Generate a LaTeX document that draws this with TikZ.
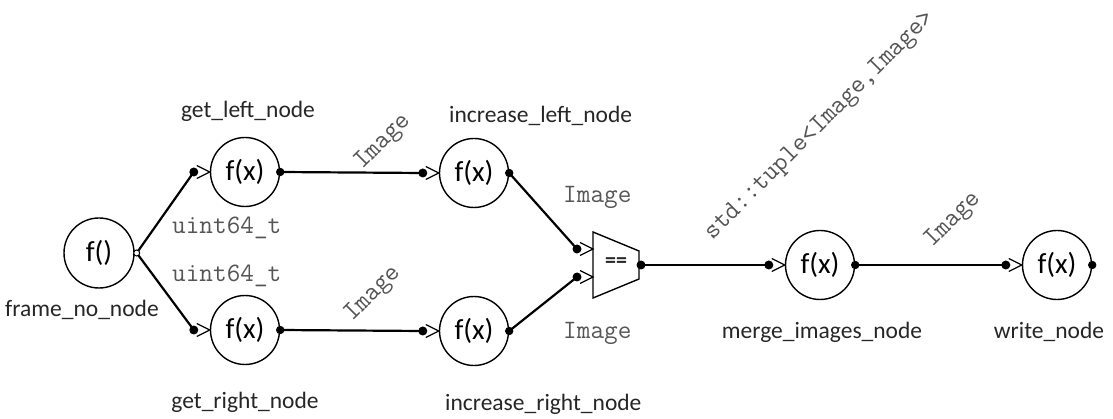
\documentclass[tikz,border=0pt]{standalone}
\usepackage{fontspec}
\setmainfont{Carlito}
\usetikzlibrary{calc}
\definecolor{txt}{HTML}{262626}
\definecolor{mono}{HTML}{555555}
\newcommand\myportin[1]{%
  \fill (#1) circle (4.5);
  \draw[chev] ($(#1)+(3,-6.5)$) -- ($(#1)+(16,0)$) -- ($(#1)+(3,6.5)$);
}
\begin{document}
\begin{tikzpicture}[x=1pt,y=-1pt,
  fnode/.style={circle,draw,line width=1.4pt,minimum size=69pt,inner sep=0pt,
    font=\fontsize{29}{29}\selectfont},
  lbl/.style={font=\fontsize{23.5}{24}\selectfont,text=txt,inner sep=0pt,anchor=base},
  mlbl/.style={font=\ttfamily\fontsize{26.5}{27}\selectfont,text=mono,inner sep=0pt},
  wire/.style={line width=2.2pt},
  chev/.style={line width=1.2pt,line join=miter},
]
\useasboundingbox (0,0) rectangle (1113,419);

% function nodes
\node[fnode,minimum size=70pt] (fn) at (99,253) {f()};
\node[fnode] (gl) at (245,172) {f(x)};
\node[fnode] (gr) at (245,330) {f(x)};
\node[fnode] (il) at (474,173) {f(x)};
\node[fnode] (ir) at (474,331) {f(x)};
\node[fnode] (mg) at (820,265) {f(x)};
\node[fnode] (wr) at (1057,265) {f(x)};

% comparator
\draw[line width=1.4pt] (593,232) -- (639,251) -- (639,279) -- (593,298) -- cycle;
\node[font=\fontsize{22}{22}\selectfont\bfseries,text=txt] (cmp) at (616,263) {==};
\coordinate (cmpin1) at (577,249);
\coordinate (cmpin2) at (577,277);
\coordinate (cmpout) at (641,265);

% input port coordinates
\coordinate (glin) at ($(gl.west)+(-16,0)$);
\coordinate (grin) at ($(gr.west)+(-16,0)$);
\coordinate (ilin) at ($(il.west)+(-16,0)$);
\coordinate (irin) at ($(ir.west)+(-16,0)$);
\coordinate (mgin) at ($(mg.west)+(-16,0)$);
\coordinate (wrin) at ($(wr.west)+(-16,0)$);
\coordinate (fnout) at ($(fn.east)+(2,0)$);

% wires
\draw[wire] (fnout) -- (glin);
\draw[wire] (fnout) -- (grin);
\draw[wire] (gl.east) -- (ilin);
\draw[wire] (gr.east) -- (irin);
\draw[wire] (il.east) -- (cmpin1);
\draw[wire] (ir.east) -- (cmpin2);
\draw[wire] (cmpout) -- (mgin);
\draw[wire] (mg.east) -- (wrin);

% output ports
\draw[line width=1pt,fill=white] (fnout) circle (3);
\foreach \n in {gl,gr,il,ir,mg,wr} {\fill (\n.east) circle (4.2);}
\fill (cmpout) circle (4.5);

% input ports
\myportin{glin}
\myportin{grin}
\myportin{ilin}
\myportin{irin}
\myportin{mgin}
\myportin{wrin}
\myportin{cmpin1}
\myportin{cmpin2}

% node labels
\node[lbl] (lfn) at (82,317) {frame\_no\_node};
\node[lbl] (lgl) at (248,118) {get\_left\_node};
\node[lbl] (lgr) at (245,408) {get\_right\_node};
\node[lbl,anchor=base west] (lil) at (449,123) {increase\_left\_node};
\node[lbl,anchor=base west] (lir) at (445,410) {increase\_right\_node};
\node[lbl] (lmg) at (822,338) {merge\_images\_node};
\node[lbl] (lwr) at (1049,338) {write\_node};

% edge labels
\node[mlbl,anchor=base west] (u1) at (172,234) {uint64\_t};
\node[mlbl,anchor=base west] (u2) at (172,282) {uint64\_t};
\node[mlbl,rotate=45] (im1) at (383,142) {Image};
\node[mlbl,rotate=45] (im2) at (373,294) {Image};
\node[mlbl,anchor=base west] (im3) at (563,203) {Image};
\node[mlbl,anchor=base west] (im4) at (563,338) {Image};
\node[mlbl,rotate=45] (tup) at (820,126) {std::tuple<Image,Image>};
\node[mlbl,rotate=45] (im5) at (953,220) {Image};
\end{tikzpicture}
\end{document}
